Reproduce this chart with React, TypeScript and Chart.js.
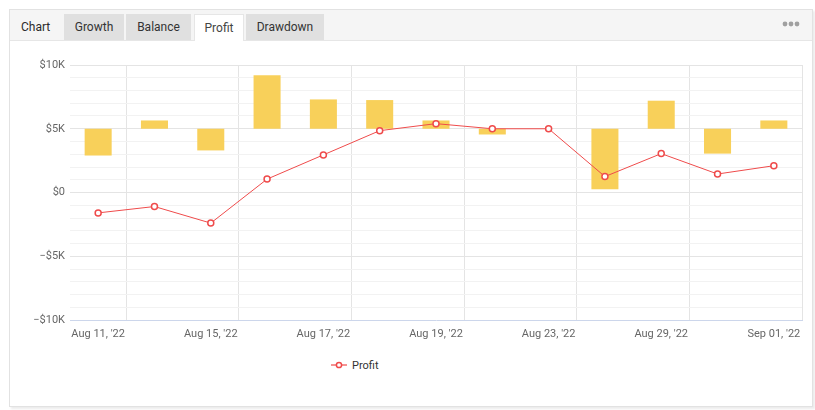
import React, { useEffect, useRef } from "react";
import { Chart, registerables } from "chart.js";

Chart.register(...registerables);

const categories = [
  "Aug 11, '22", "Aug 12, '22", "Aug 15, '22", "Aug 16, '22", "Aug 17, '22",
  "Aug 18, '22", "Aug 19, '22", "Aug 22, '22", "Aug 23, '22", "Aug 25, '22",
  "Aug 29, '22", "Aug 31, '22", "Sep 01, '22",
];
// daily change bars, drawn from the $5K baseline
const barBase = 5000;
const barEnds = [2900, 5650, 3300, 9200, 7300, 7250, 5650, 4550, 5000, 250, 7200, 3050, 5650];
// cumulative profit line
const profitValues = [-1600, -1100, -2400, 1050, 2950, 4850, 5400, 5000, 5000, 1250, 3050, 1450, 2100];
const yTicks = [-10000, -5000, 0, 5000, 10000];

const RED = "#ef4b4b";
const BAR = "#f8d05a";

function fmt(v: number): string {
  if (v === 0) return "$0";
  const k = Math.abs(v) / 1000;
  return (v < 0 ? "\u2212$" : "$") + k + "K";
}

function ChartCanvas() {
  const ref = useRef<HTMLCanvasElement | null>(null);
  useEffect(() => {
    if (!ref.current) return;
    const chart = new Chart(ref.current, {
      type: "bar",
      data: {
        labels: categories,
        datasets: [
          {
            type: "line",
            label: "Profit",
            data: profitValues,
            borderColor: RED,
            borderWidth: 1,
            pointRadius: 3,
            pointBorderWidth: 1.5,
            pointBackgroundColor: "#ffffff",
            pointBorderColor: RED,
            tension: 0,
            order: 0,
          } as any,
          {
            type: "bar",
            label: "Daily",
            data: barEnds.map((v) => [barBase, v]) as any,
            backgroundColor: BAR,
            borderWidth: 0,
            categoryPercentage: 1,
            barPercentage: 0.48,
            order: 1,
          } as any,
        ],
      },
      options: {
        responsive: false,
        animation: false,
        layout: { padding: { top: 24, right: 9, bottom: 0, left: 0 } },
        plugins: { legend: { display: false }, tooltip: { enabled: false } },
        scales: {
          x: {
            type: "category",
            offset: true,
            grid: {
              offset: true,
              drawTicks: false,
              color: (ctx: any) =>
                ctx.index === undefined || ctx.index % 2 === 1 ? "#e4e4e4" : "rgba(0,0,0,0)",
            },
            border: { display: true, color: "#ccd6eb", width: 1 },
            ticks: {
              autoSkip: false,
              maxRotation: 0,
              padding: 8,
              color: "#666666",
              font: { family: "Roboto", size: 11 },
              callback: (_v: any, i: number) => (i % 2 === 0 ? categories[i] : ""),
            },
            afterFit: (s: any) => {
              s.height = 21;
            },
          },
          y: {
            min: yTicks[0],
            max: yTicks[yTicks.length - 1],
            grid: {
              drawTicks: false,
              color: (ctx: any) => {
                const v = ctx.tick ? ctx.tick.value : 0;
                if (v === yTicks[0]) return "rgba(0,0,0,0)";
                return yTicks.includes(v) ? "#e4e4e4" : "#f2f2f2";
              },
            },
            border: { display: false },
            ticks: {
              stepSize: 1000,
              autoSkip: false,
              padding: 5,
              color: "#666666",
              font: { family: "Roboto", size: 11 },
              callback: (v: any) => (yTicks.includes(Number(v)) ? fmt(Number(v)) : ""),
            },
            afterFit: (s: any) => {
              s.width = 60;
            },
          },
        },
      },
    });
    return () => chart.destroy();
  }, []);
  return (
    <canvas
      ref={ref}
      width={801}
      height={300}
      style={{ position: "absolute", left: 10, top: 41, width: 801, height: 300 }}
    />
  );
}

const tabs = [
  { label: "Growth", left: 64, width: 60 },
  { label: "Balance", left: 126, width: 65 },
  { label: "Profit", left: 194, width: 50, active: true },
  { label: "Drawdown", left: 246, width: 78 },
];

export default function App() {
  return (
    <div
      style={{
        position: "fixed",
        left: 0,
        top: 0,
        width: 815,
        height: 410,
        background: "#ffffff",
        fontFamily: "Roboto, sans-serif",
        overflow: "hidden",
      }}
    >
      <div
        style={{
          position: "absolute",
          left: 9,
          top: 9,
          width: 802,
          height: 396,
          border: "1px solid #e2e2e2",
          boxShadow: "2px 2px 2px rgba(0,0,0,0.08)",
          background: "#ffffff",
        }}
      />
      <div
        style={{
          position: "absolute",
          left: 10,
          top: 10,
          width: 802,
          height: 30,
          background: "#f5f5f5",
          borderBottom: "1px solid #e6e6e6",
        }}
      />
      <div
        style={{
          position: "absolute",
          left: 21,
          top: 14,
          height: 26,
          lineHeight: "26px",
          fontSize: 12,
          color: "#2a2a2a",
          fontWeight: 400,
        }}
      >
        Chart
      </div>
      {tabs.map((t) => (
        <div
          key={t.label}
          style={{
            position: "absolute",
            left: t.left,
            top: 14,
            width: t.width,
            height: t.active ? 27 : 26,
            lineHeight: "26px",
            textAlign: "center",
            fontSize: 12,
            color: t.active ? "#444444" : "#333333",
            background: t.active ? "#ffffff" : "#e0e0e0",
            boxSizing: "border-box",
            border: t.active ? "1px solid #e6e6e6" : "none",
            borderBottom: "none",
          }}
        >
          {t.label}
        </div>
      ))}
      <svg
        width={18}
        height={8}
        style={{ position: "absolute", left: 782, top: 20 }}
      >
        <circle cx={3} cy={4} r={2.4} fill="#a0a0a0" />
        <circle cx={9} cy={4} r={2.4} fill="#a0a0a0" />
        <circle cx={15} cy={4} r={2.4} fill="#a0a0a0" />
      </svg>
      <ChartCanvas />
      <div
        style={{
          position: "absolute",
          left: 331,
          top: 357,
          height: 16,
          display: "flex",
          alignItems: "center",
          fontSize: 11,
          color: "#333333",
        }}
      >
        <svg width={16} height={16} style={{ marginRight: 5 }}>
          <line x1={0} y1={8} x2={16} y2={8} stroke={RED} strokeWidth={1.5} opacity={0.8} />
          <circle cx={8} cy={8} r={2.6} fill="#ffffff" stroke={RED} strokeWidth={1.5} />
        </svg>
        <span>Profit</span>
      </div>
    </div>
  );
}
